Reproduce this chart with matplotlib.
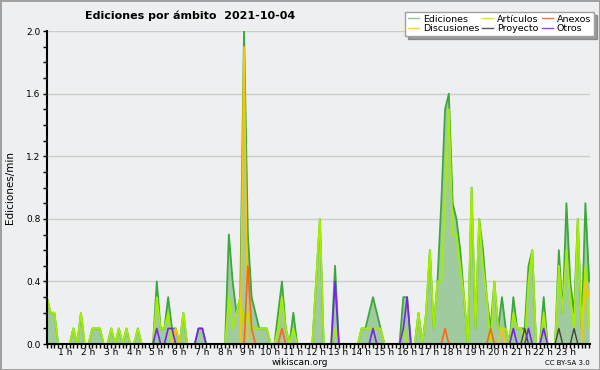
import numpy as np
import matplotlib.pyplot as plt
import matplotlib.transforms as mtransforms
from matplotlib.lines import Line2D

# valores cada 10 minutos (6 por hora), ediciones/min
ediciones = [
    0.3, 0.2, 0.2, 0, 0, 0,        # 0 h
    0, 0.1, 0, 0.2, 0, 0,          # 1 h
    0.1, 0.1, 0.1, 0, 0, 0.1,      # 2 h
    0, 0.1, 0, 0.1, 0, 0,          # 3 h
    0.1, 0, 0, 0, 0, 0.4,          # 4 h
    0.1, 0.1, 0.3, 0.1, 0.1, 0,    # 5 h
    0.2, 0, 0, 0, 0.1, 0.1,        # 6 h
    0, 0, 0, 0, 0, 0,              # 7 h
    0.7, 0.4, 0.2, 0.3, 2.0, 0.7,  # 8 h
    0.3, 0.2, 0.1, 0.1, 0.1, 0,    # 9 h
    0, 0.2, 0.4, 0.1, 0, 0.2,      # 10 h
    0, 0, 0, 0, 0, 0.4,            # 11 h
    0.8, 0, 0, 0, 0.5, 0,          # 12 h
    0, 0, 0, 0, 0, 0.1,            # 13 h
    0.1, 0.2, 0.3, 0.2, 0.1, 0,    # 14 h
    0, 0, 0, 0, 0.3, 0.3,          # 15 h
    0, 0, 0.2, 0, 0.2, 0.6,        # 16 h
    0.1, 0.4, 0.9, 1.5, 1.6, 0.9,  # 17 h
    0.8, 0.6, 0.3, 0, 1.0, 0.1,    # 18 h
    0.8, 0.6, 0.3, 0.1, 0.4, 0.1,  # 19 h
    0.3, 0.1, 0, 0.3, 0.1, 0.1,    # 20 h
    0.1, 0.5, 0.6, 0, 0, 0.3,      # 21 h
    0, 0, 0, 0.6, 0.2, 0.9,        # 22 h
    0.4, 0.2, 0.8, 0.1, 0.9, 0.4,  # 23 h
]

articulos = [
    0.3, 0.2, 0.2, 0, 0, 0,
    0, 0.1, 0, 0.2, 0, 0,
    0.1, 0.1, 0.1, 0, 0, 0.1,
    0, 0.1, 0, 0.1, 0, 0,
    0.1, 0, 0, 0, 0, 0.3,
    0.1, 0.1, 0.2, 0, 0, 0,
    0.2, 0, 0, 0, 0, 0,
    0, 0, 0, 0, 0, 0,
    0.3, 0.1, 0.2, 0.3, 0.1, 0.2,
    0.1, 0.1, 0.1, 0.1, 0.1, 0,
    0, 0.1, 0.3, 0.1, 0, 0.1,
    0, 0, 0, 0, 0, 0.4,
    0.8, 0, 0, 0, 0.1, 0,
    0, 0, 0, 0, 0, 0.1,
    0.1, 0.1, 0.1, 0.1, 0.1, 0,
    0, 0, 0, 0, 0.1, 0,
    0, 0, 0.2, 0, 0.2, 0.6,
    0.1, 0.4, 0.4, 0.9, 1.5, 0.7,
    0.7, 0.5, 0.3, 0, 1.0, 0.1,
    0.8, 0.5, 0.3, 0, 0.4, 0.1,
    0.1, 0.1, 0, 0.2, 0.1, 0.1,
    0, 0.4, 0.6, 0, 0, 0.2,
    0, 0, 0, 0.5, 0.2, 0.6,
    0.3, 0.1, 0.8, 0.1, 0.5, 0.1,
]

# series dispersas: tramo (indice de 10 min) y valor
discusiones_idx = [34, 52, 120, 142, 143]
discusiones_val = [0.1, 1.9, 0.1, 0.4, 0.3]
anexos_idx = [53, 54, 62, 105, 117]
anexos_val = [0.5, 0.1, 0.1, 0.1, 0.1]
otros_idx = [29, 32, 33, 40, 41, 76, 86, 94, 95, 123, 127, 131]
otros_val = [0.1, 0.1, 0.1, 0.1, 0.1, 0.4, 0.1, 0.1, 0.3, 0.1, 0.1, 0.1]
proyecto_idx = [126, 135, 139]
proyecto_val = [0.1, 0.1, 0.1]

horas = np.arange(len(ediciones)) / 6.0


def serie(idx, val):
    s = np.zeros(len(ediciones))
    s[idx] = val
    return s


bg = '#eeeff0'
fig = plt.figure(figsize=(6, 3.7), dpi=100, facecolor=bg,
                 edgecolor='#a0a0a0', linewidth=2)
ax = fig.add_axes([0.078, 0.07, 0.905, 0.846])
ax.set_facecolor(bg)

ax.fill_between(horas, ediciones, color='#9fcb9f', lw=0, zorder=1)
ax.plot(horas, ediciones, color='#3aa83a', lw=1.3, zorder=2)
ax.plot(horas, articulos, color='#a6ee00', lw=1.3, zorder=3)
ax.plot(horas, serie(discusiones_idx, discusiones_val), color='#ffc400', lw=1.2, zorder=4)
ax.plot(horas, serie(anexos_idx, anexos_val), color='#ff6418', lw=1.2, zorder=5)
ax.plot(horas, serie(proyecto_idx, proyecto_val), color='#444444', lw=1.0, zorder=5)
ax.plot(horas, serie(otros_idx, otros_val), color='#7a22ee', lw=1.2, zorder=6)

ax.set_xlim(0, 23.86)
ax.set_ylim(0, 2.0)
ax.yaxis.grid(True, color='#cccccc', lw=1)
ax.set_axisbelow(True)
for s in ['top', 'right']:
    ax.spines[s].set_visible(False)
for s in ['left', 'bottom']:
    ax.spines[s].set_linewidth(1.5)
    ax.spines[s].set_zorder(10)

ax.set_yticks(np.arange(0, 2.01, 0.4))
ax.set_yticks(np.arange(0, 2.01, 0.1), minor=True)
ax.set_yticklabels(['%.1f' % v for v in np.arange(0, 2.01, 0.4)])
ax.set_xticks(range(1, 24))
ax.set_xticks(horas, minor=True)
ax.set_xticklabels(['%d h' % h for h in range(1, 24)])
ax.tick_params(axis='both', which='both', length=3, width=1, labelsize=6.5, pad=1.5)
ax.tick_params(axis='x', which='major', pad=-0.5)
offset = mtransforms.ScaledTranslation(-3 / 72, 0, fig.dpi_scale_trans)
for lab in ax.get_xticklabels():
    lab.set_transform(lab.get_transform() + offset)

ax.set_ylabel('Ediciones/min', fontsize=7.5)
ax.yaxis.set_label_coords(-0.058, 0.5)

fig.text(0.142, 0.948, 'Ediciones por ámbito  2021-10-04', fontsize=8,
         fontweight='bold', ha='left', va='baseline')
fig.text(0.5, 0.014, 'wikiscan.org', fontsize=6.5, ha='center', va='baseline')
fig.text(0.983, 0.014, 'CC BY-SA 3.0', fontsize=5, ha='right', va='baseline')

handles = [
    Line2D([], [], color='#88cc88', lw=1),
    Line2D([], [], color='#ffcc44', lw=1),
    Line2D([], [], color='#ccee44', lw=1),
    Line2D([], [], color='#555555', lw=1),
    Line2D([], [], color='#ee7744', lw=1),
    Line2D([], [], color='#9944ee', lw=1),
]
labels = ['Ediciones', 'Discusiones', 'Artículos', 'Proyecto', 'Anexos', 'Otros']
fig.legend(handles, labels, ncol=3, loc='upper left', bbox_to_anchor=(0.675, 0.968),
           fontsize=6.8, frameon=True, fancybox=False, shadow=True,
           edgecolor='#a0a0a0', facecolor='white', framealpha=1,
           handlelength=1.2, handletextpad=0.4, columnspacing=0.3,
           labelspacing=0.05, borderpad=0.3, borderaxespad=0)

fig.savefig('out.png', dpi=100, facecolor=bg, edgecolor='#a0a0a0')
